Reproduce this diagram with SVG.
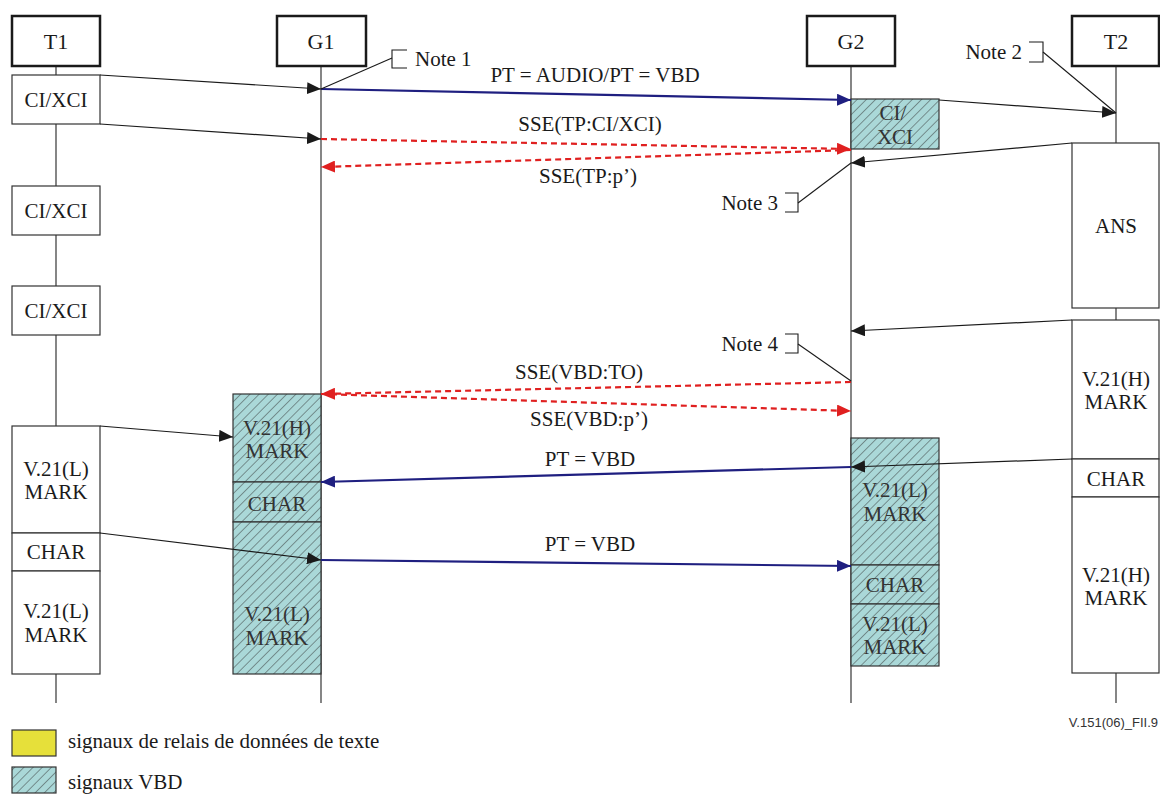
<svg xmlns="http://www.w3.org/2000/svg" width="1160" height="794" viewBox="0 0 1160 794" font-family="Liberation Serif">
<style>
text{font-size:21px;fill:#1a1a1a}
.t{text-anchor:middle}
.th{text-anchor:middle;fill:#333}
.h{text-anchor:middle;font-size:22px}
.e{text-anchor:end}
.hdr{fill:#fff;stroke:#1a1a1a;stroke-width:2.5}
.box{fill:#fff;stroke:#333;stroke-width:1.2}
.hb{fill:url(#hatch);stroke:#333;stroke-width:1.2}
.life{stroke:#444;stroke-width:1.3;fill:none}
.blk{stroke:#1a1a1a;stroke-width:1.2;fill:none}
.blu{stroke:#1f1f80;stroke-width:2.2;fill:none}
.red{stroke:#e02020;stroke-width:2.2;stroke-dasharray:6,4;fill:none}
.note{stroke:#1a1a1a;stroke-width:1.1;fill:none}
</style>
<defs>
<pattern id="hatch" patternUnits="userSpaceOnUse" width="6.5" height="6.5" patternTransform="rotate(45)">
<rect width="6.5" height="6.5" fill="#aad8d8"/>
<line x1="0" y1="0" x2="0" y2="6.5" stroke="#333" stroke-width="0.9"/>
</pattern>
<marker id="ak" markerUnits="userSpaceOnUse" markerWidth="16" markerHeight="12" refX="14" refY="6" orient="auto"><path d="M0,0 L14,6 L0,12 Z" fill="#1a1a1a"/></marker>
<marker id="ab" markerUnits="userSpaceOnUse" markerWidth="16" markerHeight="12" refX="14" refY="6" orient="auto"><path d="M0,0 L14,6 L0,12 Z" fill="#1f1f80"/></marker>
<marker id="ar" markerUnits="userSpaceOnUse" markerWidth="16" markerHeight="12" refX="14" refY="6" orient="auto"><path d="M0,0 L14,6 L0,12 Z" fill="#e02020"/></marker>
</defs>
<rect width="1160" height="794" fill="#fff"/>

<g id="lifelines">
<line class="life" x1="56" y1="66" x2="56" y2="703"/>
<line class="life" x1="321" y1="66" x2="321" y2="703"/>
<line class="life" x1="851" y1="66" x2="851" y2="703"/>
<line class="life" x1="1116" y1="66" x2="1116" y2="703"/>
</g>

<g id="T1">
<rect class="hdr" x="12" y="16" width="88" height="50"/>
<text class="h" x="56" y="49" style="font-family:'Liberation Serif',serif">T1</text>
<rect class="box" x="12" y="75" width="88" height="49"/>
<text class="t" x="56" y="107" style="font-family:'Liberation Serif',serif">CI/XCI</text>
<rect class="box" x="12" y="186" width="88" height="49"/>
<text class="t" x="56" y="218" style="font-family:'Liberation Serif',serif">CI/XCI</text>
<rect class="box" x="12" y="286" width="88" height="49"/>
<text class="t" x="56" y="318" style="font-family:'Liberation Serif',serif">CI/XCI</text>
<rect class="box" x="12" y="426" width="88" height="107"/>
<text class="t" x="56" y="476" style="font-family:'Liberation Serif',serif">V.21(L)</text>
<text class="t" x="56" y="499" style="font-family:'Liberation Serif',serif">MARK</text>
<rect class="box" x="12" y="533" width="88" height="38"/>
<text class="t" x="56" y="559" style="font-family:'Liberation Serif',serif">CHAR</text>
<rect class="box" x="12" y="571" width="88" height="103"/>
<text class="t" x="56" y="618" style="font-family:'Liberation Serif',serif">V.21(L)</text>
<text class="t" x="56" y="642" style="font-family:'Liberation Serif',serif">MARK</text>
</g>

<g id="G1">
<rect class="hdr" x="277" y="16" width="89" height="50"/>
<text class="h" x="321" y="49" style="font-family:'Liberation Serif',serif">G1</text>
<rect class="hb" x="233" y="394" width="88" height="88"/>
<text class="th" x="277" y="435" style="font-family:'Liberation Serif',serif">V.21(H)</text>
<text class="th" x="277" y="458" style="font-family:'Liberation Serif',serif">MARK</text>
<rect class="hb" x="233" y="482" width="88" height="40"/>
<text class="th" x="277" y="511" style="font-family:'Liberation Serif',serif">CHAR</text>
<rect class="hb" x="233" y="522" width="88" height="152"/>
<text class="th" x="277" y="621" style="font-family:'Liberation Serif',serif">V.21(L)</text>
<text class="th" x="277" y="645" style="font-family:'Liberation Serif',serif">MARK</text>
</g>

<g id="G2">
<rect class="hdr" x="807" y="16" width="88" height="50"/>
<text class="h" x="851" y="49" style="font-family:'Liberation Serif',serif">G2</text>
<rect class="hb" x="851" y="99" width="88" height="50"/>
<text class="th" x="893" y="120" style="font-family:'Liberation Serif',serif">CI/</text>
<text class="th" x="895" y="144" style="font-family:'Liberation Serif',serif">XCI</text>
<rect class="hb" x="851" y="438" width="88" height="127"/>
<text class="th" x="895" y="497" style="font-family:'Liberation Serif',serif">V.21(L)</text>
<text class="th" x="895" y="521" style="font-family:'Liberation Serif',serif">MARK</text>
<rect class="hb" x="851" y="565" width="88" height="39"/>
<text class="th" x="895" y="592" style="font-family:'Liberation Serif',serif">CHAR</text>
<rect class="hb" x="851" y="604" width="88" height="62"/>
<text class="th" x="895" y="631" style="font-family:'Liberation Serif',serif">V.21(L)</text>
<text class="th" x="895" y="654" style="font-family:'Liberation Serif',serif">MARK</text>
</g>

<g id="T2">
<rect class="hdr" x="1072" y="16" width="87" height="50"/>
<text class="h" x="1116" y="49" style="font-family:'Liberation Serif',serif">T2</text>
<rect class="box" x="1072" y="143" width="87" height="165"/>
<text class="t" x="1116" y="233" style="font-family:'Liberation Serif',serif">ANS</text>
<rect class="box" x="1072" y="320" width="87" height="139"/>
<text class="t" x="1116" y="386" style="font-family:'Liberation Serif',serif">V.21(H)</text>
<text class="t" x="1116" y="409" style="font-family:'Liberation Serif',serif">MARK</text>
<rect class="box" x="1072" y="459" width="87" height="38"/>
<text class="t" x="1116" y="486" style="font-family:'Liberation Serif',serif">CHAR</text>
<rect class="box" x="1072" y="497" width="87" height="176"/>
<text class="t" x="1116" y="582" style="font-family:'Liberation Serif',serif">V.21(H)</text>
<text class="t" x="1116" y="605" style="font-family:'Liberation Serif',serif">MARK</text>
</g>

<g id="connectors">
<line class="blk" x1="100" y1="75" x2="321" y2="89" marker-end="url(#ak)"/>
<line class="blk" x1="100" y1="124" x2="321" y2="139" marker-end="url(#ak)"/>
<line class="blu" x1="321" y1="89" x2="851" y2="100" marker-end="url(#ab)"/>
<line class="red" x1="321" y1="139" x2="851" y2="149" marker-end="url(#ar)"/>
<line class="red" x1="851" y1="150" x2="321" y2="167" marker-end="url(#ar)"/>
<line class="blk" x1="939" y1="100" x2="1116" y2="113" marker-end="url(#ak)"/>
<line class="blk" x1="1072" y1="143" x2="851" y2="163" marker-end="url(#ak)"/>
<line class="blk" x1="1072" y1="320" x2="851" y2="331" marker-end="url(#ak)"/>
<line class="red" x1="851" y1="382" x2="321" y2="394" marker-end="url(#ar)"/>
<line class="red" x1="321" y1="394" x2="851" y2="411" marker-end="url(#ar)"/>
<line class="blk" x1="100" y1="426" x2="233" y2="437" marker-end="url(#ak)"/>
<line class="blk" x1="1072" y1="459" x2="851" y2="467" marker-end="url(#ak)"/>
<line class="blu" x1="851" y1="467" x2="321" y2="482" marker-end="url(#ab)"/>
<line class="blk" x1="100" y1="533" x2="321" y2="560" marker-end="url(#ak)"/>
<line class="blu" x1="321" y1="560" x2="851" y2="566" marker-end="url(#ab)"/>
<text class="t" x="595" y="82" style="font-family:'Liberation Serif',serif">PT = AUDIO/PT = VBD</text>
<text class="t" x="590" y="131" style="font-family:'Liberation Serif',serif">SSE(TP:CI/XCI)</text>
<text class="t" x="588" y="183" style="font-family:'Liberation Serif',serif">SSE(TP:p&#8217;)</text>
<text class="t" x="579" y="379" style="font-family:'Liberation Serif',serif">SSE(VBD:TO)</text>
<text class="t" x="589" y="426" style="font-family:'Liberation Serif',serif">SSE(VBD:p&#8217;)</text>
<text class="t" x="590" y="466" style="font-family:'Liberation Serif',serif">PT = VBD</text>
<text class="t" x="590" y="551" style="font-family:'Liberation Serif',serif">PT = VBD</text>
</g>

<g id="notes">
<path class="note" d="M407,50 H392 V68 H407"/>
<line class="note" x1="392" y1="58" x2="321" y2="89"/>
<text x="415" y="66" style="font-family:'Liberation Serif',serif">Note 1</text>
<path class="note" d="M1029,42 H1043 V62 H1029"/>
<line class="note" x1="1043" y1="52" x2="1116" y2="113"/>
<text class="e" x="1022" y="59" style="font-family:'Liberation Serif',serif">Note 2</text>
<path class="note" d="M785,193 H798 V212 H785"/>
<line class="note" x1="798" y1="203" x2="851" y2="163"/>
<text class="e" x="778" y="210" style="font-family:'Liberation Serif',serif">Note 3</text>
<path class="note" d="M785,334 H798 V353 H785"/>
<line class="note" x1="798" y1="344" x2="851" y2="381"/>
<text class="e" x="778" y="351" style="font-family:'Liberation Serif',serif">Note 4</text>
</g>

<g id="legend">
<rect x="12" y="730" width="44" height="26" fill="#e6e03a" stroke="#333" stroke-width="1.2"/>
<text x="68" y="748" style="font-family:'Liberation Serif',serif">signaux de relais de donn&#233;es de texte</text>
<rect x="12" y="767" width="44" height="26" fill="url(#hatch)" stroke="#333" stroke-width="1.2"/>
<text x="68" y="789" style="font-family:'Liberation Serif',serif">signaux VBD</text>
<text x="1158" y="727" text-anchor="end" style="font-family:'Liberation Sans',sans-serif;font-size:13px;fill:#333">V.151(06)_FII.9</text>
</g>
</svg>
